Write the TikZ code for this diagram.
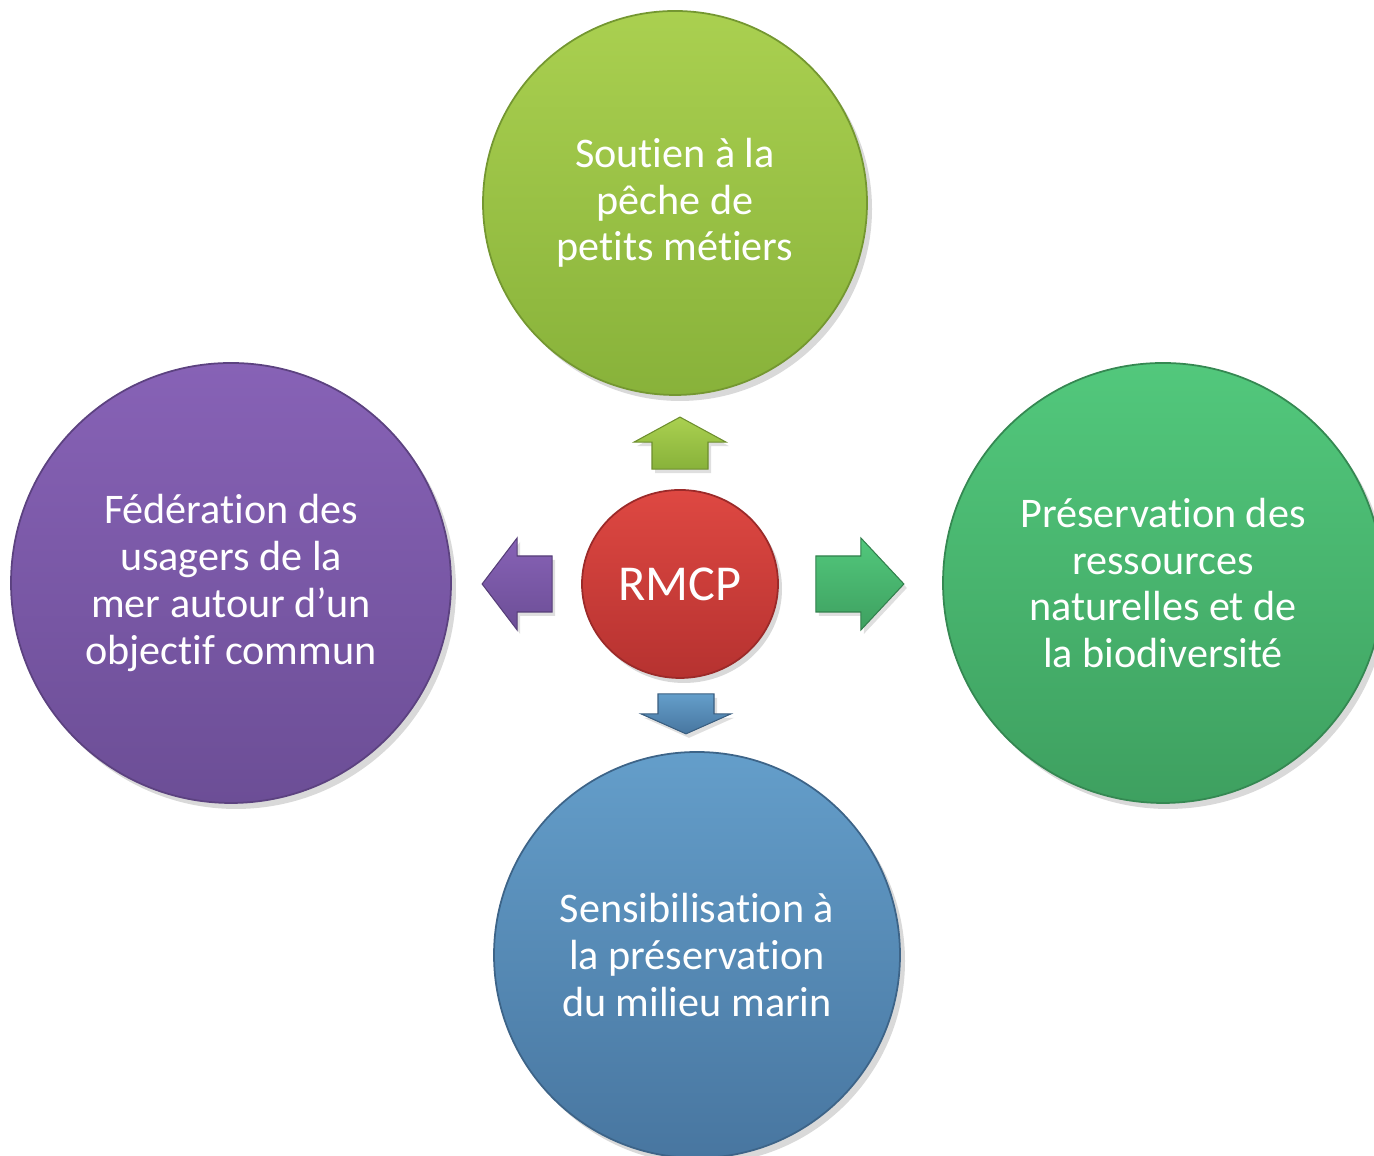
\documentclass[tikz,border=0pt]{standalone}
\usepackage{fontspec}
\setmainfont{Carlito}[Ligatures={NoCommon,NoContextual,NoRequired}, Contextuals=NoAlternate]
\usetikzlibrary{shapes,shadows,calc}
\definecolor{leafTop}{RGB}{170,208,80}
\definecolor{leafBot}{RGB}{136,178,58}
\definecolor{plumTop}{RGB}{135,98,182}
\definecolor{plumBot}{RGB}{108,78,150}
\definecolor{seaTop}{RGB}{82,200,124}
\definecolor{seaBot}{RGB}{62,160,96}
\definecolor{oceanTop}{RGB}{100,158,202}
\definecolor{oceanBot}{RGB}{72,118,160}
\definecolor{rubyTop}{RGB}{222,72,66}
\definecolor{rubyBot}{RGB}{182,50,48}

% block arrow: #1 start, #2 angle, #3 length, #4 head length, #5 head half width, #6 top colour, #7 bottom colour
\newcommand{\blockarrow}[7]{%
  \begin{scope}[shift={#1}, rotate=#2]
    \shade[top color=#6, bottom color=#7, draw=#7!80!black, line width=0.3pt, drop shadow={opacity=0.25, shadow xshift=0.03, shadow yshift=-0.04}]
      (0,-0.28) -- ({#3-#4},-0.28) -- ({#3-#4},-#5) -- (#3,0) -- ({#3-#4},#5) -- ({#3-#4},0.28) -- (0,0.28) -- cycle;
  \end{scope}}

\begin{document}
\begin{tikzpicture}[
    bubble/.style={circle, inner sep=0pt, draw, line width=0.5pt, text=white, align=center,
      font=\fontsize{12}{13.3}\selectfont,
      drop shadow={opacity=0.3, shadow xshift=0.05, shadow yshift=-0.06}},
    fishing/.style={bubble, minimum size=3.84cm, top color=leafTop, bottom color=leafBot, draw=leafBot!85!black},
    users/.style={bubble, minimum size=4.40cm, top color=plumTop, bottom color=plumBot, draw=plumBot!85!black},
    nature/.style={bubble, minimum size=4.40cm, top color=seaTop, bottom color=seaBot, draw=seaBot!85!black},
    aware/.style={bubble, minimum size=4.06cm, top color=oceanTop, bottom color=oceanBot, draw=oceanBot!85!black},
    hub/.style={ellipse, inner sep=0pt, minimum width=1.96cm, minimum height=1.88cm, line width=0.5pt,
      top color=rubyTop, bottom color=rubyBot, draw=rubyBot!85!black, text=white,
      font=\fontsize{14.3}{16}\selectfont,
      drop shadow={opacity=0.3, shadow xshift=0.04, shadow yshift=-0.05}}
]
    \useasboundingbox (0,0) rectangle (13.74,11.56);

    \node[fishing] (peche) at (6.75,9.53) {Soutien à la\\pêche de\\petits métiers};
    \node[users] (usagers) at (2.31,5.73) {Fédération des\\usagers de la\\mer autour d’un\\objectif commun};
    \node[nature] (ressources) at (11.63,5.73) {Préservation des\\ressources\\naturelles et de\\la biodiversité};
    \node[aware] (milieu) at (6.97,2.01) {Sensibilisation à\\la préservation\\du milieu marin};
    \node[hub] (rmcp) at (6.80,5.72) {RMCP};

    % arrows out of the centre
    \coordinate (upBase) at ($(rmcp.north)+(0,0.20)$);
    \coordinate (leftBase) at ($(rmcp.west)+(-0.29,0)$);
    \coordinate (rightBase) at ($(rmcp.east)+(0.37,0)$);
    \coordinate (downBase) at ($(rmcp.south)+(0.06,-0.15)$);
    \blockarrow{(upBase)}{90}{0.52}{0.25}{0.46}{leafTop}{leafBot}
    \blockarrow{(leftBase)}{180}{0.70}{0.35}{0.46}{plumTop}{plumBot}
    \blockarrow{(rightBase)}{0}{0.88}{0.43}{0.46}{seaTop}{seaBot}
    \blockarrow{(downBase)}{-90}{0.40}{0.20}{0.45}{oceanTop}{oceanBot}
\end{tikzpicture}
\end{document}
